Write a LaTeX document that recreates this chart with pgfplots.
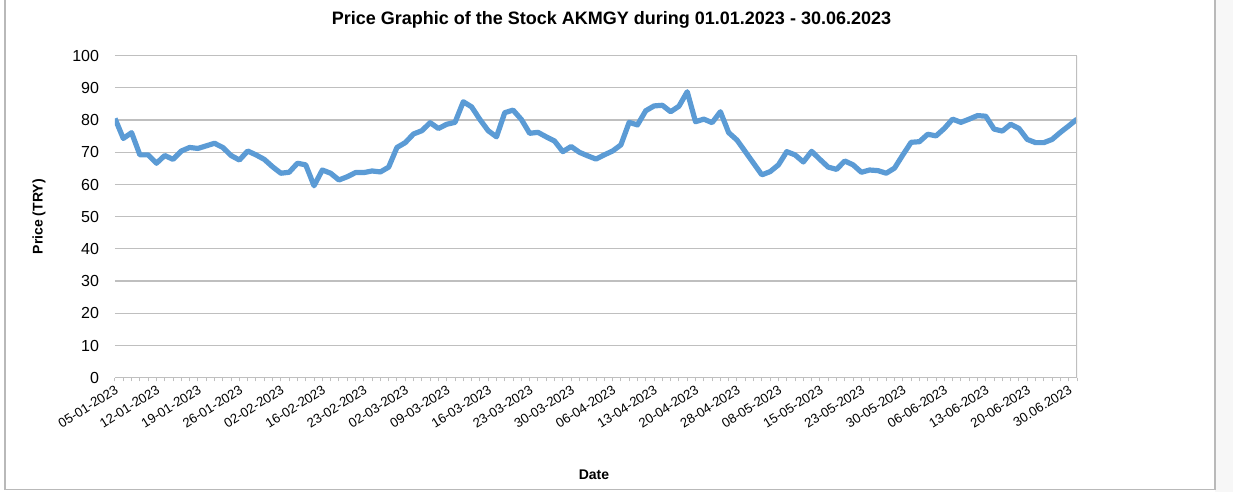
\documentclass[border=0pt]{standalone}
\usepackage{fontspec}
\setmainfont{Liberation Sans}
\usepackage{pgfplots}
\pgfplotsset{compat=1.18}
\definecolor{lineblue}{HTML}{5B9BD5}
\definecolor{gridgray}{HTML}{BFBFBF}
\begin{document}
\begin{tikzpicture}[x=1pt,y=1pt]
\path[use as bounding box] (-57.5,-57.15) rectangle (559,188.85);
\fill[gray!6] (550,-57.15) rectangle (559,188.85);
\draw[gray!55, line width=0.6pt] (-55,188.85) -- (-55,-56) -- (550,-56) -- (550,188.85);
\begin{axis}[
  at={(0,0)}, anchor=south west,
  scale only axis, width=481pt, height=161pt,
  xmin=0, xmax=116, ymin=0, ymax=100,
  axis x line=bottom, axis y line=left,
  x axis line style={draw=gridgray, -},
  y axis line style={draw=none},
  ytick={0,10,...,100},
  ytick style={draw=none},
  ymajorgrids, grid style={gridgray, line width=0.6pt},
  xtick={0,5,...,115},
  minor xtick={0,...,116},
  xtick style={gridgray, line width=0.5pt},
  tick align=outside, major tick length=1.8pt, minor tick length=1.8pt,
  xticklabels={05-01-2023,12-01-2023,19-01-2023,26-01-2023,02-02-2023,16-02-2023,23-02-2023,02-03-2023,09-03-2023,16-03-2023,23-03-2023,30-03-2023,06-04-2023,13-04-2023,20-04-2023,28-04-2023,08-05-2023,15-05-2023,23-05-2023,30-05-2023,06-06-2023,13-06-2023,20-06-2023,30.06.2023},
  xticklabel style={font=\fontsize{6.6}{7.5}\selectfont, rotate=32, anchor=north east, inner sep=1pt},
  yticklabel style={font=\fontsize{8}{9}\selectfont, anchor=east, inner sep=0pt, xshift=-6pt},
  /pgf/number format/assume math mode=true,
]
\addplot[lineblue, line width=2.6pt, line join=round] coordinates {
(0,80.5) (1,74.3) (2,76.1) (3,69.2) (4,69.2) (5,66.6) (6,69) (7,67.8) (8,70.4) (9,71.5)
(10,71.2) (11,72) (12,72.8) (13,71.5) (14,69) (15,67.6) (16,70.4) (17,69.2) (18,67.8) (19,65.5)
(20,63.5) (21,63.8) (22,66.6) (23,66.1) (24,59.6) (25,64.5) (26,63.5) (27,61.4) (28,62.4) (29,63.7)
(30,63.7) (31,64.2) (32,63.9) (33,65.4) (34,71.5) (35,73) (36,75.7) (37,76.7) (38,79.2) (39,77.4)
(40,78.7) (41,79.3) (42,85.7) (43,84.1) (44,80.2) (45,76.7) (46,74.8) (47,82.3) (48,83.1) (49,80.2)
(50,75.9) (51,76.2) (52,74.8) (53,73.5) (54,70.2) (55,71.8) (56,70) (57,68.9) (58,67.9) (59,69.2)
(60,70.4) (61,72.3) (62,79.3) (63,78.5) (64,82.9) (65,84.4) (66,84.6) (67,82.6) (68,84.3) (69,88.8)
(70,79.5) (71,80.3) (72,79.2) (73,82.6) (74,76.1) (75,73.8) (76,70.2) (77,66.6) (78,63) (79,64)
(80,66.1) (81,70.2) (82,69.2) (83,67) (84,70.3) (85,67.8) (86,65.4) (87,64.7) (88,67.3) (89,66.1)
(90,63.8) (91,64.5) (92,64.3) (93,63.5) (94,65.1) (95,69.2) (96,73.1) (97,73.3) (98,75.6) (99,75.1)
(100,77.4) (101,80.3) (102,79.3) (103,80.3) (104,81.4) (105,81.2) (106,77.2) (107,76.6) (108,78.7) (109,77.4)
(110,74) (111,73) (112,73) (113,74) (114,76.2) (115,78.2) (116,80.3)
};
\draw[gridgray, line width=0.6pt] (axis cs:116,0) -- (axis cs:116,100);
\end{axis}
\node[font=\bfseries\fontsize{9}{11}\selectfont] at (248.25,178.85) {Price Graphic of the Stock AKMGY during 01.01.2023 - 30.06.2023};
\node[font=\bfseries\fontsize{7}{8}\selectfont, rotate=90] at (-38,80.5) {Price (TRY)};
\node[font=\bfseries\fontsize{7}{8}\selectfont] at (239.5,-48.65) {Date};
\end{tikzpicture}
\end{document}
